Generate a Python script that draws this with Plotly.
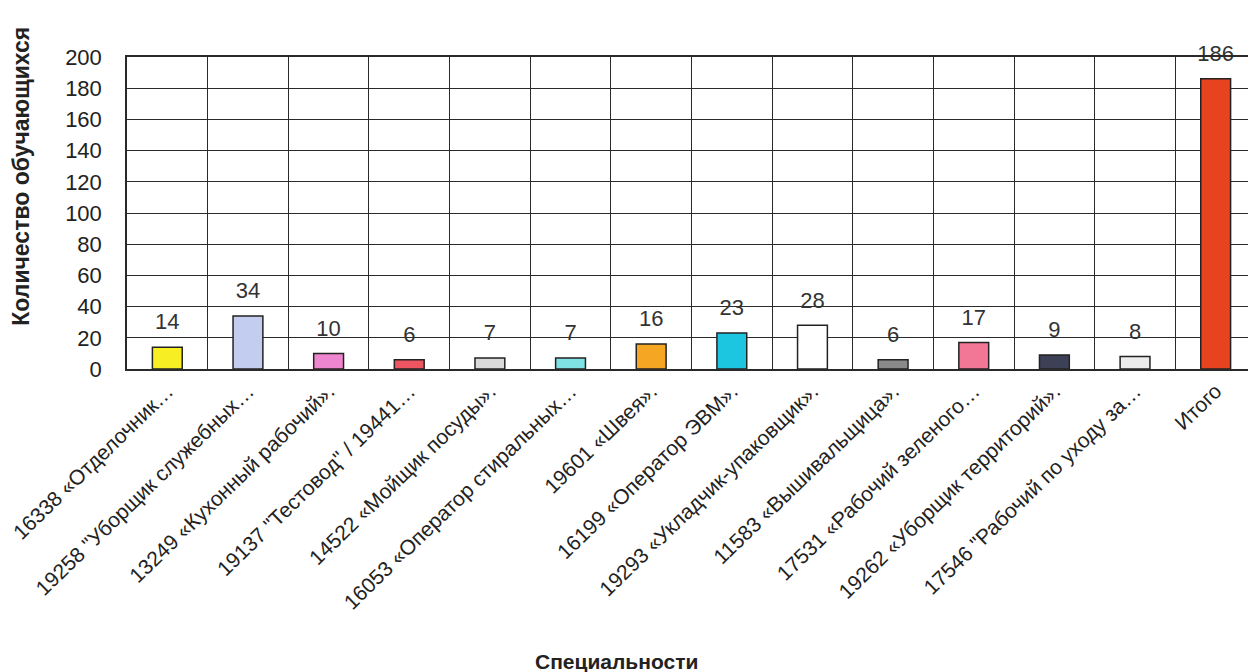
import plotly.graph_objects as go

categories = [
    "16338 «Отделочник…",
    "19258 \"Уборщик служебных…",
    "13249 «Кухонный рабочий».",
    "19137 \"Тестовод\" / 19441…",
    "14522 «Мойщик посуды».",
    "16053 «Оператор стиральных…",
    "19601 «Швея».",
    "16199 «Оператор ЭВМ».",
    "19293 «Укладчик-упаковщик».",
    "11583 «Вышивальщица».",
    "17531 «Рабочий зеленого…",
    "19262 «Уборщик территорий».",
    "17546 \"Рабочий по уходу за…",
    "Итого",
]
values = [14, 34, 10, 6, 7, 7, 16, 23, 28, 6, 17, 9, 8, 186]
colors = [
    "#f7ee24", "#c3cdf0", "#ee86cf", "#ee5560", "#d9d9d9", "#7fe3e6",
    "#f5a623", "#1cc6e0", "#ffffff", "#8a8a8a", "#f27796", "#3d4158",
    "#ececec", "#e8431f",
]
y_ticks = [0, 20, 40, 60, 80, 100, 120, 140, 160, 180, 200]

FONT = "Liberation Sans, Arial"

fig = go.Figure()
fig.add_trace(
    go.Bar(
        x=categories,
        y=values,
        marker=dict(color=colors, line=dict(color="#222222", width=1.5)),
        width=0.37,
        hoverinfo="x+y",
    )
)
# value labels placed a little above each bar top
fig.add_trace(
    go.Scatter(
        x=categories,
        y=values,
        mode="markers+text",
        marker=dict(size=18, opacity=0),
        text=[str(v) for v in values],
        textposition="top center",
        textfont=dict(size=22, color="#333333", family=FONT),
        cliponaxis=False,
        hoverinfo="skip",
    )
)

fig.update_layout(
    width=1256,
    height=672,
    margin=dict(l=119, r=8, t=49, b=311),
    paper_bgcolor="white",
    plot_bgcolor="white",
    showlegend=False,
    font=dict(family=FONT, color="#222222"),
    xaxis=dict(
        type="category",
        range=[-0.5, len(categories) - 0.5],
        tickson="boundaries",
        showgrid=True,
        gridcolor="#2a2a2a",
        gridwidth=1,
        showline=True,
        linecolor="#2a2a2a",
        linewidth=1.5,
        mirror=True,
        tickangle=-44,
        tickfont=dict(size=21, color="#222222"),
        ticks="",
        automargin=False,
    ),
    yaxis=dict(
        range=[0, 200],
        tickvals=y_ticks,
        showgrid=True,
        gridcolor="#2a2a2a",
        gridwidth=1,
        showline=True,
        linecolor="#2a2a2a",
        linewidth=1.5,
        mirror=True,
        zeroline=False,
        tickfont=dict(size=22, color="#222222"),
        ticks="",
        ticklabelstandoff=19,
        automargin=False,
    ),
    annotations=[
        dict(
            text="<b>Специальности</b>",
            xref="paper", yref="paper",
            x=0.434, y=-0.939,
            xanchor="center", yanchor="middle",
            showarrow=False,
            font=dict(size=21, color="#222222", family=FONT),
        ),
        dict(
            text="<b>Количество обучающихся</b>",
            xref="paper", yref="paper",
            x=-0.094, y=0.619,
            xanchor="center", yanchor="middle",
            textangle=-90,
            showarrow=False,
            font=dict(size=23, color="#222222", family=FONT),
        ),
    ],
)

fig.write_html("out.html")
